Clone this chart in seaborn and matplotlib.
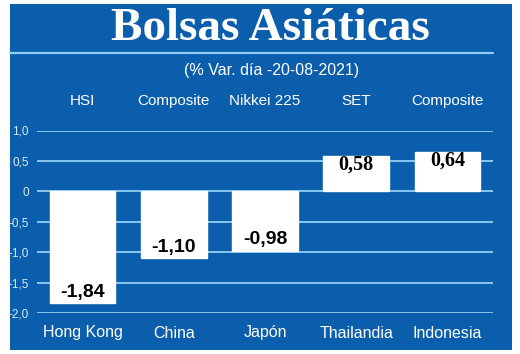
import matplotlib
matplotlib.use("Agg")
import matplotlib.pyplot as plt
import matplotlib.transforms as mtransforms
from matplotlib.patches import Rectangle
from matplotlib.lines import Line2D
import seaborn as sns
import pandas as pd

# data
countries = ["Hong Kong", "China", "Japón", "Thailandia", "Indonesia"]
indices = ["HSI", "Composite", "Nikkei 225", "SET", "Composite"]
values = [-1.84, -1.10, -0.98, 0.58, 0.64]
value_labels = ["-1,84", "-1,10", "-0,98", "0,58", "0,64"]
yticks = [1.0, 0.5, 0, -0.5, -1.0, -1.5, -2.0]
ytick_labels = ["1,0", "0,5", "0", "-0,5", "-1,0", "-1,5", "-2,0"]

BLUE = "#0b5eab"
GRID = "#8fd0f2"
LIGHT = "#d6ebf8"

sns.set_style("white")
plt.rcParams["font.family"] = ["Liberation Sans", "DejaVu Sans"]

W, H = 520, 354
fig = plt.figure(figsize=(W / 100, H / 100), dpi=100, facecolor="white")

# blue panel
fig.patches.append(Rectangle((10 / W, 1 - 350 / H), 502 / W, 346 / H,
                             transform=fig.transFigure, facecolor=BLUE,
                             edgecolor="none", zorder=-5))
fig.lines.append(Line2D([10 / W, 493 / W], [1 - 53 / H, 1 - 53 / H],
                        transform=fig.transFigure, color=GRID, lw=1.6))

fig.text(270 / W, 1 - 29 / H, "Bolsas Asiáticas", ha="center", va="center",
         color="white", fontsize=34, fontweight="bold",
         family=["Liberation Serif", "DejaVu Serif"])
fig.text(272 / W, 1 - 71 / H, "(% Var. día -20-08-2021)", ha="center",
         va="center", color="white", fontsize=11.5)

ax = fig.add_axes([37 / W, 1 - 313 / H, 456 / W, (313 - 130.5) / H])
ax.set_zorder(2)
ax.patch.set_alpha(0)

df = pd.DataFrame({"country": countries, "value": values})
sns.barplot(data=df, x="country", y="value", color="white", width=0.72,
            saturation=1, ax=ax, zorder=3)

ax.set_xlim(-0.5, 4.5)
ax.set_ylim(-2.0, 1.0)
ax.set_yticks(yticks)
ax.set_yticklabels(ytick_labels)
for yv in yticks:
    ax.axhline(yv, color=GRID, lw=1.3, zorder=1)
for s in ax.spines.values():
    s.set_visible(False)
ax.tick_params(axis="y", length=0, pad=6, labelsize=8.5, labelcolor=LIGHT)
ax.tick_params(axis="x", length=0, pad=9, labelsize=11.5, labelcolor="white")
ax.set_xlabel("")
ax.set_ylabel("")

# index names above the chart
trans = mtransforms.blended_transform_factory(ax.transData, fig.transFigure)
for i, name in enumerate(indices):
    ax.text(i, 1 - 101 / H, name, transform=trans, ha="center", va="center",
            color="white", fontsize=11, clip_on=False)

# value labels inside the bars
for i, (v, lab) in enumerate(zip(values, value_labels)):
    if v < 0:
        ax.annotate(lab, (i, v), xytext=(0, 8), textcoords="offset points",
                    ha="center", va="center", fontsize=14, fontweight="bold",
                    color="black", zorder=5)
    else:
        ax.annotate(lab, (i, v), xytext=(0, -6), textcoords="offset points",
                    ha="center", va="center", fontsize=14.5, fontweight="bold",
                    color="black", family=["Liberation Serif", "DejaVu Serif"],
                    zorder=5)

fig.savefig("out.png", dpi=100, facecolor="white")
